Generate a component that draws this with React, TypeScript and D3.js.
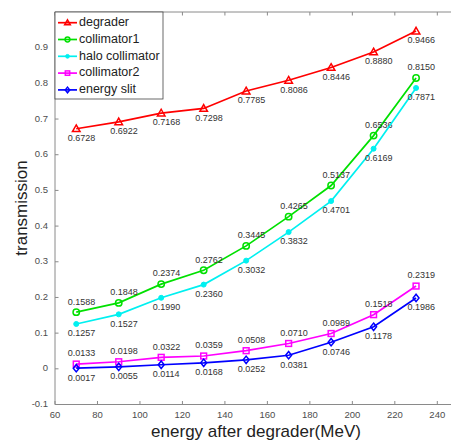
import React from "react";
import * as d3 from "d3";

const energies = [70, 90, 110, 130, 150, 170, 190, 210, 230];
const degrader = [0.6728, 0.6922, 0.7168, 0.7298, 0.7785, 0.8086, 0.8446, 0.888, 0.9466];
const collimator1 = [0.1588, 0.1848, 0.2374, 0.2762, 0.3445, 0.4265, 0.5137, 0.6536, 0.815];
const haloCollimator = [0.1257, 0.1527, 0.199, 0.236, 0.3032, 0.3832, 0.4701, 0.6169, 0.7871];
const collimator2 = [0.0133, 0.0198, 0.0322, 0.0359, 0.0508, 0.071, 0.0989, 0.1518, 0.2319];
const energySlit = [0.0017, 0.0055, 0.0114, 0.0168, 0.0252, 0.0381, 0.0746, 0.1178, 0.1986];
const xTicks = [60, 80, 100, 120, 140, 160, 180, 200, 220, 240];
const yTicks = [-0.1, 0, 0.1, 0.2, 0.3, 0.4, 0.5, 0.6, 0.7, 0.8, 0.9];

type Series = { name: string; values: number[]; color: string; marker: string; labelPos: "above" | "below" };

const series: Series[] = [
  { name: "degrader", values: degrader, color: "#ff0000", marker: "triangle", labelPos: "below" },
  { name: "collimator1", values: collimator1, color: "#00e000", marker: "circle", labelPos: "above" },
  { name: "halo collimator", values: haloCollimator, color: "#00f0f0", marker: "dot", labelPos: "below" },
  { name: "collimator2", values: collimator2, color: "#ff00ff", marker: "square", labelPos: "above" },
  { name: "energy slit", values: energySlit, color: "#0000ff", marker: "diamond", labelPos: "below" },
];

const W = 451;
const H = 441;
const left = 55;
const top = 12;
const bottom = 404.5;

function Marker({ type, x, y, color, k = 1 }: { type: string; x: number; y: number; color: string; k?: number }) {
  const sw = 1.5;
  if (type === "triangle") {
    const s = 3.8 * k;
    return (
      <path
        d={`M${x},${y - s} L${x + s},${y + s * 0.75} L${x - s},${y + s * 0.75} Z`}
        fill="none"
        stroke={color}
        strokeWidth={sw}
      />
    );
  }
  if (type === "circle") {
    return <circle cx={x} cy={y} r={3.2 * k} fill="none" stroke={color} strokeWidth={sw} />;
  }
  if (type === "dot") {
    return <circle cx={x} cy={y} r={2.5 * k} fill={color} stroke={color} strokeWidth={1} />;
  }
  if (type === "square") {
    const s = 2.9 * k;
    return <rect x={x - s} y={y - s} width={2 * s} height={2 * s} fill="none" stroke={color} strokeWidth={sw} />;
  }
  const s = 3.7 * k;
  return (
    <path
      d={`M${x},${y - s} L${x + s * 0.8},${y} L${x},${y + s} L${x - s * 0.8},${y} Z`}
      fill="none"
      stroke={color}
      strokeWidth={sw}
    />
  );
}

export default function App() {
  const x = d3.scaleLinear().domain([60, 240]).range([left, 437.3]);
  const y = d3.scaleLinear().domain([-0.1, 1.0]).range([bottom, top]);
  const right = x(252);
  const line = d3
    .line<[number, number]>()
    .x((d) => x(d[0]))
    .y((d) => y(d[1]));

  const axisColor = "#8a8a8a";
  const tickColor = "#4d4d4d";
  const font = "'Liberation Sans', Arial, sans-serif";

  const fmt = (v: number) => v.toFixed(4);
  const fmtTick = (v: number) => (v === 0 ? "0" : d3.format(".1f")(v).replace("−", "-"));

  return (
    <svg
      width={W}
      height={H}
      style={{ position: "absolute", left: 0, top: 0, background: "#fff" }}
      fontFamily={font}
    >
      <rect x={0} y={0} width={W} height={H} fill="#fff" />
      <line x1={left} x2={right} y1={top} y2={top} stroke={axisColor} strokeWidth={1} />
      <line x1={left} x2={right} y1={bottom} y2={bottom} stroke={axisColor} strokeWidth={1} />
      <line x1={left} x2={left} y1={top} y2={bottom} stroke={axisColor} strokeWidth={1} />
      {xTicks.map((t) => (
        <g key={"xt" + t}>
          <line x1={x(t)} x2={x(t)} y1={bottom} y2={bottom - 3.5} stroke={axisColor} />
          <line x1={x(t)} x2={x(t)} y1={top} y2={top + 3.5} stroke={axisColor} />
          <text x={x(t)} y={bottom + 11} textAnchor="middle" dominantBaseline="middle" fontSize={9.5} fill={tickColor}>
            {t}
          </text>
        </g>
      ))}
      {yTicks.map((t) => (
        <g key={"yt" + t}>
          <line x1={left} x2={left + 3.5} y1={y(t)} y2={y(t)} stroke={axisColor} />
          <text x={left - 7} y={y(t)} textAnchor="end" dominantBaseline="middle" fontSize={9.5} fill={tickColor}>
            {fmtTick(t)}
          </text>
        </g>
      ))}
      {series.map((s) => {
        const pts = energies.map((e, i) => [e, s.values[i]] as [number, number]);
        return (
          <g key={s.name}>
            <path d={line(pts) || ""} fill="none" stroke={s.color} strokeWidth={1.7} />
            {pts.map((p, i) => (
              <Marker key={i} type={s.marker} x={x(p[0])} y={y(p[1])} color={s.color} />
            ))}
            {pts.map((p, i) => (
              <text
                key={"l" + i}
                x={x(p[0]) - 8.5}
                y={y(p[1]) + (s.labelPos === "above" ? -10 : 10)}
                dominantBaseline="middle"
                fontSize={9}
                fill="#333"
              >
                {fmt(p[1])}
              </text>
            ))}
          </g>
        );
      })}
      <rect x={left} y={top} width={108} height={87} fill="#fff" stroke="#444" strokeWidth={0.8} />
      {series.map((s, i) => {
        const ly = top + 10.7 + i * 16.8;
        return (
          <g key={"lg" + s.name}>
            <line x1={58} x2={77} y1={ly} y2={ly} stroke={s.color} strokeWidth={1.7} />
            <Marker type={s.marker} x={67.5} y={ly} color={s.color} k={0.75} />
            <text x={79} y={ly} dominantBaseline="middle" fontSize={12.5} fill="#222">
              {s.name}
            </text>
          </g>
        );
      })}
      <text x={256} y={433} textAnchor="middle" dominantBaseline="middle" fontSize={17} fill="#222">
        energy after degrader(MeV)
      </text>
      <text
        transform={`translate(23,208) rotate(-90)`}
        textAnchor="middle"
        dominantBaseline="middle"
        fontSize={17}
        fill="#222"
      >
        transmission
      </text>
    </svg>
  );
}
